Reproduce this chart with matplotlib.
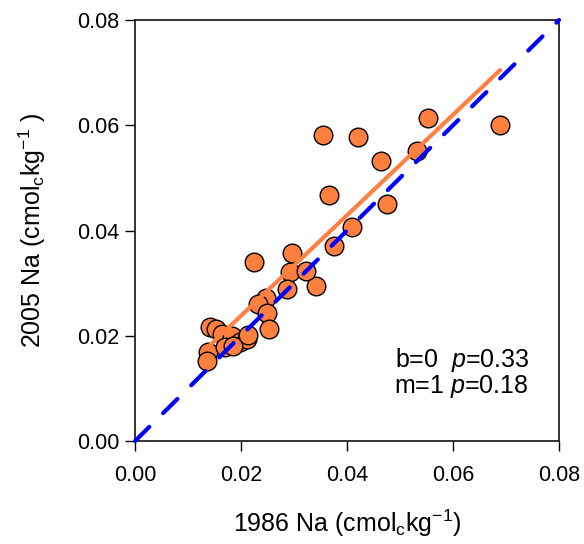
import numpy as np
import matplotlib
matplotlib.use('Agg')
from matplotlib import pyplot as plt

plt.rcParams['font.family'] = ['Liberation Sans', 'DejaVu Sans']
plt.rcParams['mathtext.fontset'] = 'custom'
plt.rcParams['mathtext.rm'] = 'Liberation Sans'
plt.rcParams['mathtext.it'] = 'Liberation Sans:italic'
plt.rcParams['lines.scale_dashes'] = False

# Na values (cmol_c/kg)
na_1986 = [0.0689, 0.0553, 0.0532, 0.0464, 0.0421, 0.0355, 0.0366, 0.0475,
           0.0409, 0.0375, 0.0342, 0.0296, 0.0225, 0.0292, 0.0323, 0.0287,
           0.0247, 0.0232, 0.0249, 0.0253, 0.0141, 0.0153, 0.0164, 0.0183,
           0.0198, 0.0211, 0.0138, 0.0136, 0.0170, 0.0185, 0.0213]
na_2005 = [0.0600, 0.0614, 0.0551, 0.0532, 0.0578, 0.0581, 0.0467, 0.0450,
           0.0407, 0.0370, 0.0294, 0.0357, 0.0340, 0.0321, 0.0323, 0.0289,
           0.0272, 0.0260, 0.0243, 0.0213, 0.0217, 0.0213, 0.0203, 0.0199,
           0.0188, 0.0194, 0.0169, 0.0152, 0.0179, 0.0181, 0.0202]

# regression line
fit_slope = 0.955
fit_intercept = 0.0047

ticks = [0.00, 0.02, 0.04, 0.06, 0.08]
stats_lines = ['b=0  $p$=0.33', 'm=1 $p$=0.18']

x = np.array(na_1986)
y = np.array(na_2005)

fig = plt.figure(figsize=(5.84, 5.44), dpi=100)
ax = fig.add_axes([0.2312, 0.1893, 0.726, 0.7739])

ax.scatter(x, y, s=180, c='#FF7F3F', edgecolors='black', linewidths=1.0, zorder=2)

fx = np.array([x.min(), x.max()])
ax.plot(fx, fit_slope * fx + fit_intercept, color='#FF8040', lw=3, zorder=3,
        solid_capstyle='round')

ax.plot([0, 0.08], [0, 0.08], color='#0000FF', lw=3, zorder=4,
        dashes=(14.5, 14), dash_capstyle='round', clip_on=False)

ax.set_xlim(0, 0.08)
ax.set_ylim(0, 0.08)
ax.set_xticks(ticks)
ax.set_yticks(ticks)
ax.set_xticklabels(['%.2f' % t for t in ticks])
ax.set_yticklabels(['%.2f' % t for t in ticks])
ax.tick_params(axis='both', direction='out', length=7, width=1, labelsize=15.5,
               colors='black')
ax.tick_params(axis='y', pad=4)
ax.tick_params(axis='x', pad=10)

for side in ['top', 'right', 'left', 'bottom']:
    ax.spines[side].set_linewidth(1.3)
    ax.spines[side].set_color('#222222')

ax.set_xlabel('1986 Na (cmol$_\\mathregular{c}$kg$^{-1}$)', fontsize=18, labelpad=16)
ax.set_ylabel('2005 Na (cmol$_\\mathregular{c}$kg$^{-1}$ )', fontsize=18, labelpad=21)

ax.text(0.0491, 0.01406, stats_lines[0], fontsize=18, va='baseline', ha='left')
ax.text(0.0489, 0.00912, stats_lines[1], fontsize=18, va='baseline', ha='left')

plt.savefig('out.png', dpi=100)
